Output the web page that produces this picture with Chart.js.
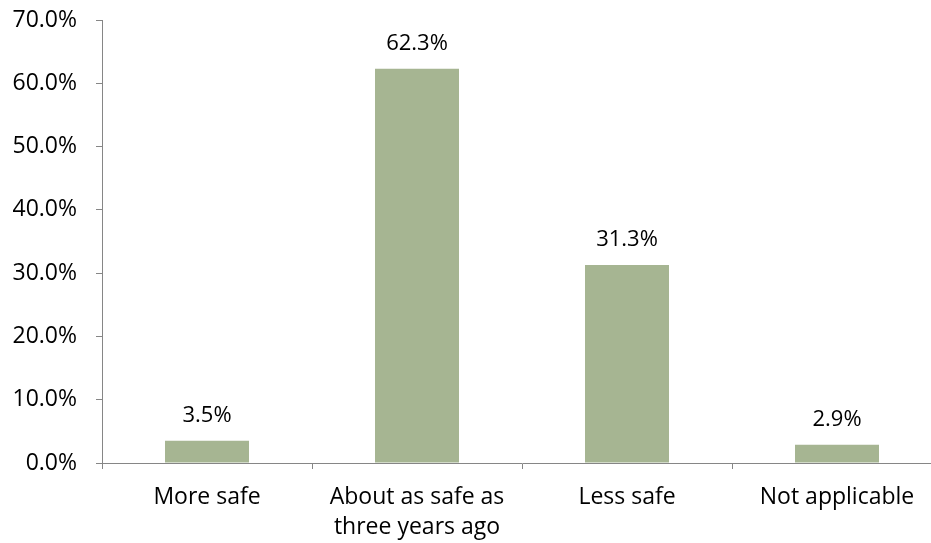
<!DOCTYPE html>
<html>
<head>
<meta charset="utf-8">
<script src="https://cdn.jsdelivr.net/npm/chart.js@4.4.7/dist/chart.umd.min.js"></script>
<style>
  html, body { margin: 0; padding: 0; background: #fff; overflow: hidden; }
  #wrap { position: absolute; left: 0; top: 0; width: 943px; height: 543px; }
</style>
</head>
<body>
<div id="wrap"><canvas id="chart" width="943" height="543"></canvas></div>
<script>
var categories = [
  'More safe',
  ['About as safe as', 'three years ago'],
  'Less safe',
  'Not applicable',
];
var values = [3.5, 62.3, 31.3, 2.9];
var yTicks = [0, 10, 20, 30, 40, 50, 60, 70];

var FONT = '"Open Sans", Lato, sans-serif';
var AXIS = '#868686';

var barLabels = {
  id: 'barLabels',
  afterDatasetsDraw: function (chart) {
    var ctx = chart.ctx;
    var meta = chart.getDatasetMeta(0);
    ctx.save();
    ctx.font = '22px ' + FONT;
    ctx.fillStyle = '#000';
    ctx.textAlign = 'center';
    ctx.textBaseline = 'alphabetic';
    meta.data.forEach(function (bar, i) {
      ctx.fillText(values[i].toFixed(1) + '%', bar.x, bar.y - 19);
    });
    ctx.restore();
  },
};

var ctx = document.getElementById('chart').getContext('2d');
new Chart(ctx, {
  type: 'bar',
  data: {
    labels: categories,
    datasets: [
      {
        data: values,
        backgroundColor: '#a6b592',
        borderWidth: 0,
        categoryPercentage: 1,
        barPercentage: 0.4,
      },
    ],
  },
  options: {
    responsive: false,
    animation: false,
    layout: { padding: { left: 0, right: 1, top: 20, bottom: 0 } },
    plugins: {
      legend: { display: false },
      tooltip: { enabled: false },
    },
    scales: {
      x: {
        grid: {
          offset: true,
          drawOnChartArea: false,
          drawTicks: true,
          tickLength: 6,
          color: AXIS,
        },
        border: { color: AXIS, width: 1 },
        ticks: {
          color: '#000',
          font: { family: FONT, size: 23, lineHeight: 1.3 },
          padding: 14,
          maxRotation: 0,
          autoSkip: false,
        },
        afterFit: function (scale) {
          scale.height = 80;
          scale.paddingLeft = 0;
          scale.paddingRight = 0;
        },
      },
      y: {
        min: 0,
        max: 70,
        afterBuildTicks: function (scale) {
          scale.ticks = yTicks.map(function (v) { return { value: v }; });
        },
        grid: {
          drawOnChartArea: false,
          drawTicks: true,
          tickLength: 6,
          color: AXIS,
        },
        border: { color: AXIS, width: 1 },
        ticks: {
          color: '#000',
          font: { family: FONT, size: 23 },
          padding: 19,
          callback: function (value) {
            return value.toFixed(1) + '%';
          },
        },
        afterFit: function (scale) {
          scale.width = 102;
          scale.paddingTop = 0;
          scale.paddingBottom = 0;
        },
      },
    },
  },
  plugins: [barLabels],
});
</script>
</body>
</html>
